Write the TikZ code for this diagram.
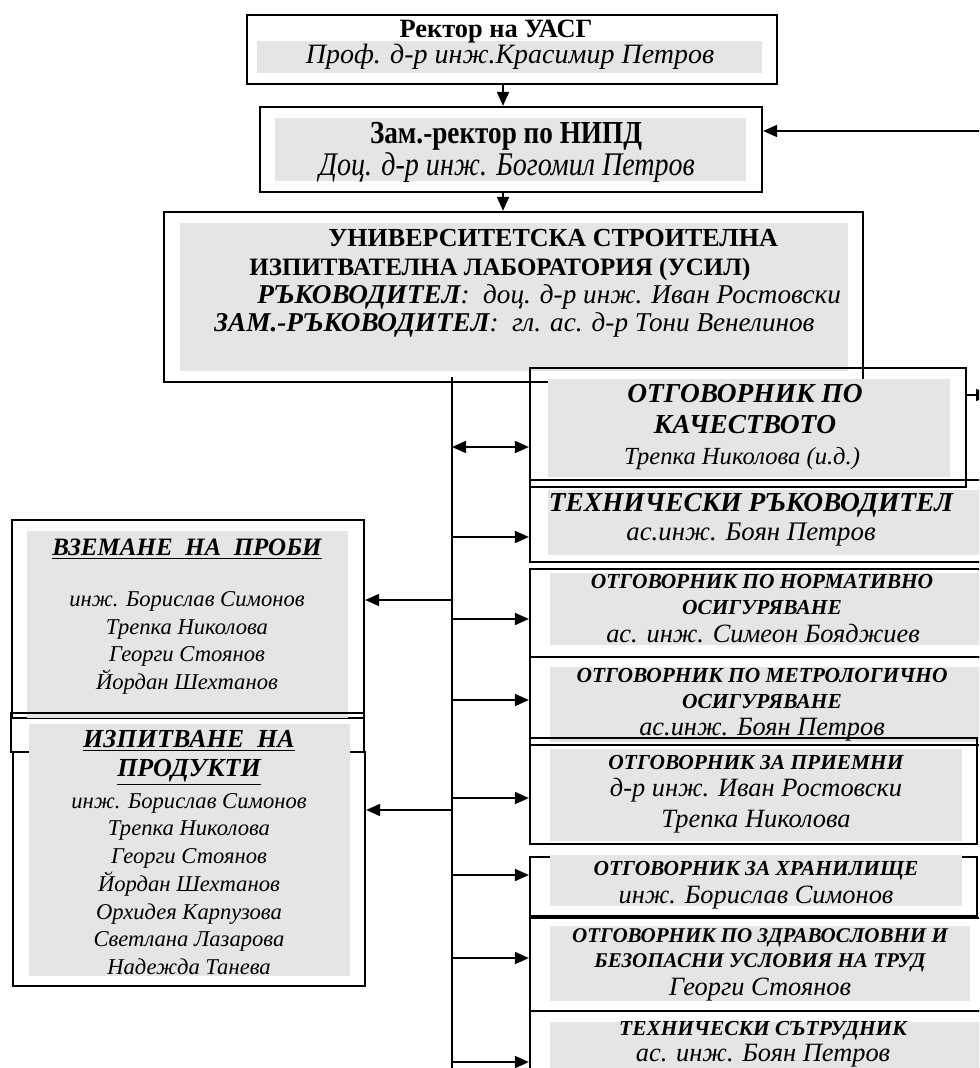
\documentclass[tikz,border=0pt]{standalone}
\usepackage{fontspec}
\setmainfont{Liberation Serif}
\newfontfamily\narrowserif[FakeStretch=0.85]{Liberation Serif}
\usetikzlibrary{fit,arrows.meta}
\definecolor{bandgray}{gray}{0.9}
\newcommand\fsz[2]{\fontsize{#1}{#2}\selectfont}
\newcommand\uline[1]{\underline{#1}}
\tikzset{
  frame/.style={draw, line width=1.1pt, inner sep=0pt},
  band/.style={fill=bandgray},
  txt/.style={align=center, inner sep=0pt},
  head/.style={txt, font=\fsz{10.7}{13}\bfseries\itshape},
  who/.style={txt, font=\fsz{13.2}{15.5}\itshape},
  link/.style={-{Triangle[length=7pt,width=6pt]}, line width=0.9pt},
  twoway/.style={{Triangle[length=7pt,width=6pt]}-{Triangle[length=7pt,width=6pt]}, line width=0.9pt},
}
\begin{document}
\begin{tikzpicture}[x=0.5pt, y=-0.5pt]
	\useasboundingbox (0,0) rectangle (979,1068);
	\clip (0,0) rectangle (979,1068);
	\coordinate (spine) at (503,0);

	\node[frame, fit={(247,15) (777,84)}] (rector) {};
	\fill[band] (257,41) rectangle (762,73);
	\node[txt, anchor=base, font=\fsz{13.2}{15}\bfseries] (rectorA) at (496,38) {Ректор на УАСГ};
	\node[txt, font=\fsz{14}{16}\itshape] (rectorB) at (510,57) {Проф. д-р инж.Красимир Петров};

	\node[frame, fit={(260,107) (762,192)}] (nipd) {};
	\fill[band] (275,118) rectangle (746,181);
	\node[txt, anchor=base, font=\fsz{16}{18}\narrowserif\bfseries] (nipdA) at (506,144) {Зам.-ректор по НИПД};
	\node[txt, anchor=base, font=\fsz{16.5}{18}\narrowserif\itshape] (nipdB) at (507,176) {Доц. д-р инж. Богомил Петров};

	\node[frame, fit={(164,212) (863,382)}] (usil) {};
	\fill[band] (180,223) rectangle (848,371);
	\node[txt, anchor=base west, font=\fsz{13}{15}\bfseries] (usilA) at (328,247) {УНИВЕРСИТЕТСКА СТРОИТЕЛНА};
	\node[txt, anchor=base west, font=\fsz{12.5}{15}\bfseries] (usilB) at (249,276) {ИЗПИТВАТЕЛНА ЛАБОРАТОРИЯ (УСИЛ)};
	\node[txt, anchor=base west, font=\fsz{13.6}{15}\itshape] (usilC) at (257,304) {\textbf{РЪКОВОДИТЕЛ}:\ \ доц. д-р инж. Иван Ростовски};
	\node[txt, anchor=base west, font=\fsz{13.6}{15}\itshape] (usilD) at (214,332) {\textbf{ЗАМ.-РЪКОВОДИТЕЛ}:\ \ гл. ас. д-р Тони Венелинов};

	\node[frame, fit={(530,368) (966,487)}] (qual) {};
	\fill[band] (548,379) rectangle (950,477);
	\node[txt, font=\fsz{13.7}{15.5}\bfseries\itshape] (qualA) at (745,409) {ОТГОВОРНИК ПО\\КАЧЕСТВОТО};
	\node[txt, font=\fsz{12.3}{14}\itshape] (qualB) at (742,459) {Трепка Николова (и.д.)};

	\node[frame, fit={(530,480) (990,562)}] (techdir) {};
	\fill[band] (548,490) rectangle (990,555);
	\node[txt, font=\fsz{13.7}{15.5}\bfseries\itshape] (techdirA) at (751,505) {ТЕХНИЧЕСКИ РЪКОВОДИТЕЛ};
	\node[who, font=\fsz{13.4}{15.5}\itshape] (techdirB) at (751,535) {ас.инж. Боян Петров};

	\node[frame, fit={(530,569) (990,657)}] (norm) {};
	\fill[band] (550,573) rectangle (990,645);
	\node[head] (normA) at (762,595) {ОТГОВОРНИК ПО НОРМАТИВНО\\ОСИГУРЯВАНЕ};
	\node[who] (normB) at (763,634) {ас. инж. Симеон Бояджиев};

	\node[frame, fit={(530,657) (990,745)}] (metro) {};
	\fill[band] (550,667) rectangle (990,742);
	\node[head] (metroA) at (762,689) {ОТГОВОРНИК ПО МЕТРОЛОГИЧНО\\ОСИГУРЯВАНЕ};
	\node[who] (metroB) at (762,730) {ас.инж. Боян Петров};

	\node[frame, fit={(530,738) (977,844)}] (recv) {};
	\fill[band] (550,749) rectangle (962,841);
	\node[head] (recvA) at (756,763) {ОТГОВОРНИК ЗА ПРИЕМНИ};
	\node[who] (recvB) at (756,806) {д-р инж. Иван Ростовски\\Трепка Николова};

	\node[frame, fit={(530,857) (977,916)}] (store) {};
	\fill[band] (550,855) rectangle (962,906);
	\node[head] (storeA) at (756,871) {ОТГОВОРНИК ЗА ХРАНИЛИЩЕ};
	\node[who] (storeB) at (756,898) {инж. Борислав Симонов};

	\node[frame, fit={(530,918) (990,1011)}] (health) {};
	\fill[band] (550,926) rectangle (970,1001);
	\node[head, font=\fsz{10.5}{12.5}\bfseries\itshape] (healthA) at (760,950) {ОТГОВОРНИК ПО ЗДРАВОСЛОВНИ И\\БЕЗОПАСНИ УСЛОВИЯ НА ТРУД};
	\node[who] (healthB) at (760,990) {Георги Стоянов};

	\node[frame, fit={(530,1011) (990,1090)}] (staff) {};
	\fill[band] (550,1022) rectangle (990,1090);
	\node[head] (staffA) at (763,1031) {ТЕХНИЧЕСКИ СЪТРУДНИК};
	\node[who] (staffB) at (763,1056) {ас. инж. Боян Петров};

	\node[frame, fit={(12,520) (364,718)}] (sample) {};
	\fill[band] (27,531) rectangle (348,718);
	\node[txt, font=\fsz{12.5}{14}\bfseries\itshape] (sampleA) at (187,549) {\uline{ВЗЕМАНЕ~~НА~~ПРОБИ}};
	\node[txt, font=\fsz{11.3}{13.7}\itshape] (sampleB) at (187,643) {инж. Борислав Симонов\\Трепка Николова\\Георги Стоянов\\Йордан Шехтанов};

	\node[frame, fit={(11,713) (364,752)}] (prodtop) {};
	\node[frame, fit={(13,752) (365,986)}] (prod) {};
	\fill[band] (29,724) rectangle (350,976);
	\node[txt, font=\fsz{13}{14.5}\bfseries\itshape] (prodA) at (189,758) {\uline{ИЗПИТВАНЕ~~НА}\\\uline{ПРОДУКТИ}};
	\node[txt, font=\fsz{11.3}{13.85}\itshape] (prodB) at (189,884) {инж. Борислав Симонов\\Трепка Николова\\Георги Стоянов\\Йордан Шехтанов\\Орхидея Карпузова\\Светлана Лазарова\\Надежда Танева};

	\draw[link] (rector.south -| spine) -- (nipd.north -| spine);
	\draw[link] (nipd.south -| spine) -- (usil.north -| spine);
	\coordinate (fromright) at (990,131);
	\draw[link] (fromright) -- (fromright -| nipd.east);
	\coordinate (toright) at (990,395);
	\draw[link] (toright -| qual.east) -- (toright);

	\coordinate (bustop) at (452,377);
	\coordinate (busbot) at (452,1090);
	\draw[line width=0.9pt] (bustop) -- (busbot);
	\coordinate (rowqual) at (452,447);
	\draw[twoway] (rowqual) -- (rowqual -| qual.west);
	\foreach \tgt/\yy in {techdir/537, norm/619, metro/700, recv/798, store/875, health/958, staff/1062} {
		\coordinate (row\tgt) at (452,\yy);
		\draw[link] (row\tgt) -- (row\tgt -| \tgt.west);
	}
	\coordinate (rowsample) at (452,600);
	\draw[link] (rowsample) -- (rowsample -| sample.east);
	\coordinate (rowprod) at (452,810);
	\draw[link] (rowprod) -- (rowprod -| prod.east);
\end{tikzpicture}
\end{document}
